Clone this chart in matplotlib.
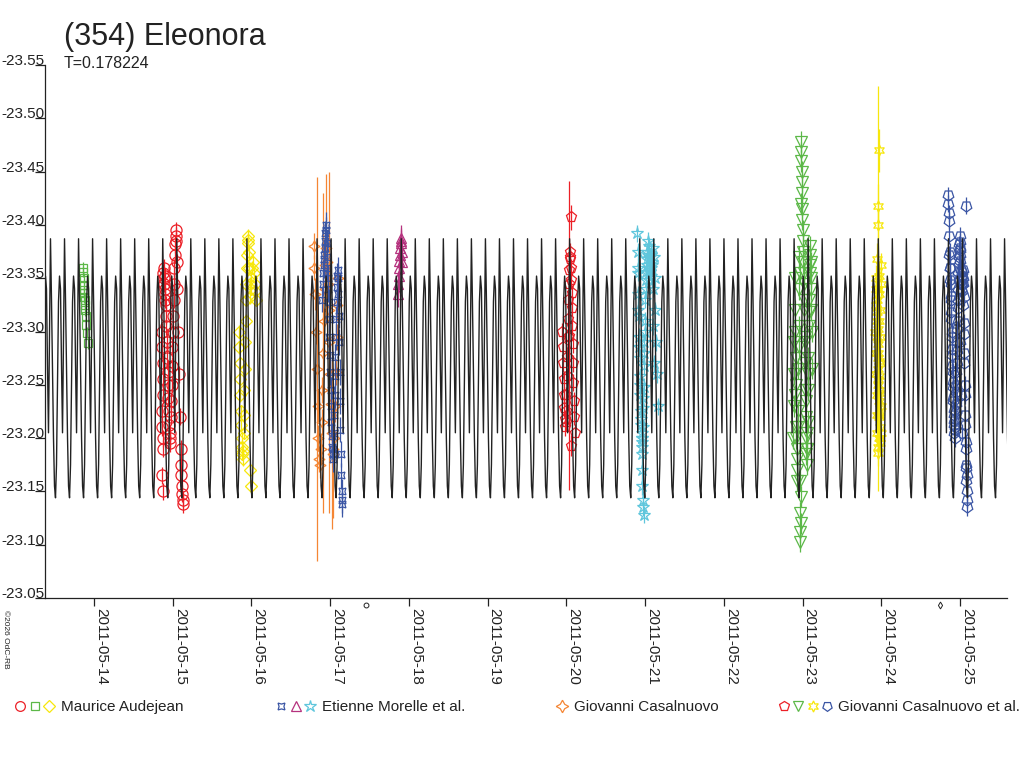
import numpy as np
import matplotlib
matplotlib.use('Agg')
from matplotlib import pyplot as plt
import matplotlib.dates as mdates
from matplotlib.lines import Line2D
from matplotlib.legend_handler import HandlerTuple

plt.rcParams['font.family'] = ['Liberation Sans', 'DejaVu Sans']

# period (days) and one cycle of the model lightcurve
period = 0.178224
peak_day = 18.437
profile = [-23.387, -23.330, -23.262, -23.200, -23.155, -23.144, -23.175,
           -23.250, -23.328, -23.352, -23.340, -23.268, -23.205, -23.300]

# observations: day of May 2011, magnitude, error
g1_day = [13.862, 13.866, 13.870, 13.872, 13.874, 13.876, 13.878, 13.880, 13.884, 13.890, 13.896, 13.904, 13.910, 13.918]
g1_mag = [-23.360, -23.356, -23.350, -23.344, -23.339, -23.336, -23.332, -23.330, -23.325, -23.320, -23.315, -23.306, -23.299, -23.289]
g1_err = 0.005

r1_day = [14.880, 14.885, 14.888, 14.892, 14.895, 14.898, 14.902, 14.905, 14.910, 14.914, 14.860, 14.865, 14.870, 14.874,
          14.878, 14.862, 14.866, 14.870, 14.875, 14.868, 14.872, 14.920, 14.925, 14.930, 14.935, 14.940, 14.945, 14.950,
          14.955, 14.960, 14.965, 14.970, 14.975, 14.980, 14.985, 14.990, 14.995, 15.000, 15.005, 15.010, 15.015, 15.020,
          15.025, 15.030, 15.035, 15.040, 15.045, 15.050, 15.060, 15.070, 15.080, 15.090, 15.100, 15.105, 15.110, 15.115,
          15.120, 15.125, 15.130]
r1_mag = [-23.355, -23.350, -23.345, -23.360, -23.352, -23.340, -23.335, -23.330, -23.325, -23.315, -23.300, -23.285, -23.270, -23.255,
          -23.240, -23.225, -23.210, -23.200, -23.190, -23.165, -23.150, -23.305, -23.290, -23.275, -23.262, -23.250, -23.238, -23.225,
          -23.212, -23.200, -23.195, -23.205, -23.220, -23.235, -23.250, -23.268, -23.285, -23.300, -23.315, -23.330, -23.345, -23.360,
          -23.372, -23.382, -23.390, -23.395, -23.385, -23.365, -23.340, -23.300, -23.260, -23.220, -23.190, -23.175, -23.165, -23.155,
          -23.148, -23.142, -23.138]
r1_err = 0.008

y1_day = [15.840, 15.845, 15.850, 15.855, 15.860, 15.865, 15.870, 15.875, 15.880, 15.885, 15.890, 15.895, 15.900, 15.905,
          15.910, 15.915, 15.920, 15.925, 15.930, 15.935, 15.940, 15.945, 15.950, 15.955, 15.960, 15.965, 15.970, 15.975,
          15.980, 15.990, 16.000, 16.010, 16.020, 16.030, 16.040, 16.050, 16.060, 15.985, 15.995]
y1_mag = [-23.300, -23.285, -23.270, -23.255, -23.240, -23.225, -23.212, -23.200, -23.192, -23.185, -23.180, -23.188, -23.205, -23.222,
          -23.245, -23.265, -23.290, -23.310, -23.330, -23.345, -23.360, -23.372, -23.383, -23.390, -23.386, -23.375, -23.360, -23.345,
          -23.332, -23.340, -23.350, -23.360, -23.365, -23.355, -23.345, -23.338, -23.330, -23.170, -23.155]
y1_err = 0.006

eb_day = [16.900, 16.905, 16.910, 16.915, 16.920, 16.925, 16.930, 16.935, 16.940, 16.945, 16.950, 16.955, 16.960, 16.965,
          16.970, 16.975, 16.980, 16.985, 16.990, 16.995, 17.000, 17.005, 17.010, 17.015, 17.020, 17.025, 17.030, 17.035,
          17.040, 17.045, 17.050, 17.055, 17.060, 17.065, 17.070, 17.075, 17.080, 17.085, 17.090, 17.095, 17.100, 17.105,
          17.110, 17.115, 17.120, 17.125, 17.130, 17.135, 17.140, 17.145, 17.150, 17.155]
eb_mag = [-23.330, -23.345, -23.355, -23.362, -23.368, -23.372, -23.378, -23.385, -23.392, -23.400, -23.395, -23.383, -23.370, -23.360,
          -23.350, -23.340, -23.328, -23.312, -23.295, -23.278, -23.262, -23.245, -23.230, -23.215, -23.202, -23.192, -23.185, -23.180,
          -23.190, -23.205, -23.222, -23.240, -23.258, -23.276, -23.295, -23.312, -23.328, -23.342, -23.352, -23.358, -23.350, -23.335,
          -23.315, -23.290, -23.262, -23.235, -23.208, -23.185, -23.165, -23.150, -23.142, -23.138]
eb_err = 0.012

gc_day = [16.790, 16.800, 16.810, 16.820, 16.830, 16.840, 16.850, 16.860, 16.870, 16.880, 16.890, 16.900, 16.910, 16.920,
          16.930, 16.940, 16.950, 16.960, 16.970, 16.980, 16.990, 17.000, 17.010, 17.020, 17.030, 17.040, 17.050, 17.060,
          17.070, 17.080, 17.090, 17.100]
gc_mag = [-23.380, -23.360, -23.335, -23.300, -23.265, -23.230, -23.200, -23.180, -23.175, -23.190, -23.215, -23.245, -23.280, -23.310,
          -23.340, -23.362, -23.378, -23.365, -23.345, -23.320, -23.290, -23.260, -23.232, -23.205, -23.190, -23.185, -23.200, -23.230,
          -23.262, -23.295, -23.325, -23.350]
gc_err = [0.012, 0.012, 0.015, 0.012, 0.180, 0.015, 0.012, 0.012, 0.012, 0.015, 0.012, 0.012, 0.150, 0.012,
          0.015, 0.012, 0.070, 0.012, 0.015, 0.012, 0.160, 0.012, 0.015, 0.090, 0.012, 0.060, 0.012, 0.015,
          0.012, 0.012, 0.015, 0.012]

em_day = [17.860, 17.865, 17.870, 17.875, 17.880, 17.885, 17.890, 17.895, 17.900, 17.905, 17.910, 17.915]
em_mag = [-23.335, -23.345, -23.352, -23.360, -23.366, -23.372, -23.378, -23.383, -23.388, -23.385, -23.375, -23.365]
em_err = 0.012

rp_day = [19.950, 19.955, 19.960, 19.965, 19.970, 19.975, 19.980, 19.985, 19.990, 19.995, 20.000, 20.005, 20.010, 20.015,
          20.020, 20.025, 20.030, 20.035, 20.040, 20.045, 20.050, 20.055, 20.060, 20.065, 20.070, 20.075, 20.080, 20.085,
          20.090, 20.095, 20.100, 20.105, 20.060, 20.062, 20.030]
rp_mag = [-23.300, -23.285, -23.270, -23.255, -23.240, -23.228, -23.218, -23.210, -23.215, -23.225, -23.240, -23.258, -23.276, -23.295,
          -23.312, -23.330, -23.345, -23.358, -23.368, -23.375, -23.370, -23.360, -23.348, -23.336, -23.322, -23.305, -23.288, -23.270,
          -23.252, -23.235, -23.220, -23.205, -23.407, -23.193, -23.296]
rp_err = [0.008] * 32 + [0.012, 0.010, 0.145]

ec_day = [20.900, 20.905, 20.910, 20.915, 20.920, 20.925, 20.930, 20.935, 20.940, 20.945, 20.950, 20.955, 20.960, 20.965,
          20.970, 20.975, 20.980, 20.985, 20.990, 20.995, 21.000, 21.010, 21.020, 21.030, 21.040, 21.050, 21.060, 21.070,
          21.080, 21.090, 21.100, 21.110, 21.120, 21.130, 21.140, 21.150, 21.160, 20.955, 20.960, 20.965, 20.970, 20.975,
          20.980, 20.905, 20.915, 20.925, 20.935, 20.945, 20.955, 20.965, 20.975, 20.985, 20.995, 21.005, 21.015, 21.025,
          21.035, 21.045, 21.055, 21.065, 21.075, 21.085, 21.095, 21.105, 21.115]
ec_mag = [-23.392, -23.375, -23.355, -23.335, -23.315, -23.295, -23.275, -23.258, -23.240, -23.225, -23.212, -23.200, -23.192, -23.196,
          -23.210, -23.228, -23.248, -23.268, -23.290, -23.310, -23.330, -23.348, -23.362, -23.375, -23.385, -23.380, -23.370, -23.360,
          -23.352, -23.365, -23.378, -23.370, -23.350, -23.320, -23.290, -23.260, -23.230, -23.185, -23.170, -23.155, -23.142, -23.135,
          -23.128, -23.360, -23.320, -23.285, -23.250, -23.218, -23.205, -23.200, -23.238, -23.280, -23.300, -23.340, -23.356, -23.368,
          -23.372, -23.360, -23.348, -23.356, -23.372, -23.362, -23.340, -23.305, -23.270]
ec_err = 0.008

gv_day = [22.880, 22.885, 22.890, 22.895, 22.900, 22.905, 22.910, 22.915, 22.920, 22.925, 22.930, 22.935, 22.940, 22.945,
          22.950, 22.955, 22.960, 22.965, 22.968, 22.970, 22.975, 22.978, 22.980, 22.983, 22.986, 22.988, 22.990, 22.993,
          22.996, 23.000, 23.005, 23.010, 23.015, 23.020, 23.025, 23.030, 23.035, 23.040, 23.045, 23.050, 23.055, 23.060,
          23.065, 23.070, 23.075, 23.080, 23.085, 23.090, 23.095, 23.100, 23.105, 23.110, 23.115, 23.120,
          22.902, 22.912, 22.922, 22.932, 22.942, 22.952, 22.962, 22.972, 22.982, 22.992, 23.002, 23.012, 23.022, 23.032,
          23.042, 23.052, 23.062, 23.072, 23.082, 23.092, 23.102, 23.112]
gv_mag = [-23.200, -23.230, -23.260, -23.290, -23.320, -23.350, -23.300, -23.250, -23.210, -23.180, -23.160, -23.190, -23.225, -23.265,
          -23.305, -23.340, -23.370, -23.130, -23.112, -23.103, -23.120, -23.145, -23.478, -23.468, -23.460, -23.450, -23.440, -23.415,
          -23.405, -23.395, -23.385, -23.365, -23.345, -23.320, -23.295, -23.270, -23.245, -23.220, -23.200, -23.185, -23.175, -23.190,
          -23.215, -23.245, -23.275, -23.305, -23.330, -23.355, -23.372, -23.380, -23.365, -23.340, -23.300, -23.265,
          -23.240, -23.275, -23.200, -23.170, -23.210, -23.285, -23.355, -23.160, -23.420, -23.430, -23.375, -23.355, -23.330, -23.290,
          -23.235, -23.190, -23.205, -23.260, -23.318, -23.362, -23.350, -23.320]
gv_err = 0.010

ys_day = [23.925, 23.930, 23.935, 23.940, 23.945, 23.950, 23.955, 23.960, 23.965, 23.970, 23.975, 23.980, 23.985, 23.990,
          23.995, 24.000, 23.955, 23.960, 23.965, 23.970, 23.975, 23.928, 23.933, 23.938, 23.943, 23.948, 23.953, 23.958,
          23.963, 23.968, 23.973, 23.978, 23.983, 23.988, 23.993, 23.998, 23.945, 23.950, 23.955, 23.960, 23.965, 23.970,
          23.975, 23.980, 23.950, 23.960, 23.962, 23.965, 23.960]
ys_mag = [-23.300, -23.280, -23.260, -23.240, -23.222, -23.205, -23.192, -23.186, -23.200, -23.220, -23.245, -23.270, -23.295, -23.320,
          -23.345, -23.362, -23.255, -23.275, -23.310, -23.335, -23.352, -23.350, -23.340, -23.325, -23.310, -23.295, -23.280, -23.265,
          -23.250, -23.235, -23.222, -23.210, -23.200, -23.195, -23.205, -23.230, -23.330, -23.318, -23.302, -23.288, -23.272, -23.258,
          -23.242, -23.228, -23.368, -23.400, -23.418, -23.470, -23.340]
ys_err = [0.012] * 44 + [0.015, 0.015, 0.020, 0.020, 0.190]

bp_day = [24.850, 24.852, 24.855, 24.860, 24.865, 24.870, 24.875, 24.880, 24.885, 24.890, 24.895, 24.900, 24.905, 24.910,
          24.915, 24.920, 24.925, 24.930, 24.935, 24.940, 24.945, 24.950, 24.955, 24.960, 24.965, 24.970, 24.975, 24.980,
          24.985, 24.990, 24.995, 25.000, 25.005, 25.010, 25.015, 25.020, 25.025, 25.030, 25.035, 25.040, 25.045, 25.050,
          25.055, 25.060, 25.065, 25.070, 25.075, 25.080, 25.085, 25.090, 25.095, 25.070, 25.000, 25.010, 25.020,
          24.862, 24.868, 24.874, 24.880, 24.886, 24.892, 24.898, 24.904, 24.910, 24.916, 24.922, 24.928, 24.934, 24.940,
          24.946, 24.952, 24.958, 24.964, 24.970, 24.976, 24.982, 24.988, 24.994, 25.000, 25.006, 25.012, 25.018, 25.024,
          25.030, 25.036, 25.042, 25.048, 25.054, 25.060, 25.066, 25.072, 25.078, 25.084]
bp_mag = [-23.428, -23.420, -23.411, -23.404, -23.390, -23.375, -23.360, -23.345, -23.330, -23.312, -23.295, -23.278, -23.262, -23.248,
          -23.235, -23.222, -23.212, -23.205, -23.200, -23.210, -23.225, -23.243, -23.262, -23.282, -23.302, -23.322, -23.340, -23.356,
          -23.370, -23.382, -23.390, -23.384, -23.372, -23.358, -23.345, -23.338, -23.345, -23.352, -23.358, -23.350, -23.332, -23.308,
          -23.280, -23.250, -23.222, -23.196, -23.175, -23.160, -23.150, -23.142, -23.135, -23.418, -23.290, -23.240, -23.205,
          -23.372, -23.360, -23.348, -23.333, -23.318, -23.300, -23.284, -23.268, -23.253, -23.238, -23.226, -23.216, -23.208, -23.218,
          -23.232, -23.250, -23.270, -23.290, -23.310, -23.330, -23.348, -23.364, -23.376, -23.378, -23.366, -23.352, -23.340, -23.348,
          -23.356, -23.345, -23.325, -23.298, -23.270, -23.240, -23.212, -23.190, -23.172, -23.165]
bp_err = 0.008

base = mdates.date2num(np.datetime64('2011-05-01T00:00')) - 1.0
def tx(days):
    return base + np.asarray(days, dtype=float)

fig = plt.figure(figsize=(10.24, 7.68), dpi=100)
ax = fig.add_axes([45/1024, 1-598/768, 962/1024, 533/768])

series = [
    (g1_day, g1_mag, g1_err, 's', '#5cb848', 6),
    (r1_day, r1_mag, r1_err, 'o', '#ec2027', 8),
    (y1_day, y1_mag, y1_err, 'D', '#f7e70c', 6),
    (gc_day, gc_mag, gc_err, (4, 1, 0), '#f58634', 8),
    (eb_day, eb_mag, eb_err, (4, 1, 45), '#3a55a4', 7),
    (em_day, em_mag, em_err, '^', '#b5327e', 7),
    (rp_day, rp_mag, rp_err, 'p', '#ec2027', 8),
    (ec_day, ec_mag, ec_err, '*', '#5fc6dc', 9),
    (gv_day, gv_mag, gv_err, 'v', '#5cb848', 8),
    (ys_day, ys_mag, ys_err, (6, 1, 0), '#f7e70c', 8),
    (bp_day, bp_mag, bp_err, (5, 0, 180), '#3a55a4', 8),
]
for d, m, e, mk, c, ms in series:
    ax.errorbar(tx(d), m, yerr=e, fmt='none', ecolor=c, elinewidth=0.9, zorder=2)
    ax.plot(tx(d), m, ls='none', marker=mk, ms=ms, mfc='none', mec=c, mew=0.9, zorder=2)

# model curve: the cycle profile repeated with the period
n = len(profile)
cycles = np.arange(-29, 41)
model_t = (peak_day + period * (cycles[:, None] + np.arange(n)[None, :] / n)).ravel()
model_m = np.tile(profile, len(cycles))
ax.plot(tx(model_t), model_m, color='#222222', lw=1.0, zorder=3)

# stray marks under the axis
ax.plot(tx([17.455]), [-23.043], ls='none', marker='o', ms=3.5, mfc='none', mec='#222222', mew=0.7, clip_on=False)
ax.plot(tx([24.745]), [-23.043], ls='none', marker='d', ms=3.5, mfc='none', mec='#222222', mew=0.7, clip_on=False)

ax.set_xlim(tx(13.377), tx(25.597))
ax.set_ylim(-23.05, -23.55)
ax.set_yticks(np.round(np.arange(-23.55, -23.049, 0.05), 2))
ax.yaxis.set_major_formatter(plt.FormatStrFormatter('%.2f'))
ax.xaxis.set_major_locator(mdates.DayLocator())
ax.xaxis.set_major_formatter(mdates.DateFormatter('%Y-%m-%d'))
ax.tick_params(axis='y', length=7.5, width=0.9, pad=-7.5, labelsize=11, colors='#222222')
ax.tick_params(axis='x', length=6, width=0.9, pad=1, labelsize=11, colors='#222222')
for lab in ax.get_yticklabels():
    lab.set_va('baseline')
for lab in ax.get_xticklabels():
    lab.set_rotation(270)
    lab.set_ha('left')
    lab.set_va('top')
for s in ['top', 'right']:
    ax.spines[s].set_visible(False)
for s in ['left', 'bottom']:
    ax.spines[s].set_color('#222222')
    ax.spines[s].set_linewidth(0.9)

fig.text(64/1024, 1-37/768, '(354) Eleonora', fontsize=22, va='center', color='#222222')
fig.text(64/1024, 1-63/768, 'T=0.178224', fontsize=11.5, va='center', color='#222222')
fig.text(2/1024, 1-610/768, '©2026 OdC-RB', fontsize=6, rotation=270, va='top', ha='left', color='#222222')

def mk(marker, c, ms=7):
    return Line2D([], [], ls='none', marker=marker, ms=ms, mfc='none', mec=c, mew=0.9)

groups = [
    ((mk('o', '#ec2027'), mk('s', '#5cb848', 6), mk('D', '#f7e70c', 6)), 'Maurice Audejean', 14),
    ((mk((4, 1, 45), '#3a55a4'), mk('^', '#b5327e'), mk('*', '#5fc6dc', 9)), 'Etienne Morelle et al.', 275),
    ((mk((4, 1, 0), '#f58634', 9),), 'Giovanni Casalnuovo', 555),
    ((mk('p', '#ec2027'), mk('v', '#5cb848'), mk((6, 1, 0), '#f7e70c', 8), mk((5, 0, 180), '#3a55a4')),
     'Giovanni Casalnuovo et al.', 778),
]
for hs, label, xpix in groups:
    fig.legend([hs], [label], loc='center left', bbox_to_anchor=(xpix/1024, 1-707/768),
               handler_map={tuple: HandlerTuple(ndivide=None, pad=0.1)},
               handlelength=0.9*len(hs), handletextpad=0.35, frameon=False,
               borderpad=0, borderaxespad=0, fontsize=11, labelcolor='#222222')

fig.savefig('out.png', dpi=100)
